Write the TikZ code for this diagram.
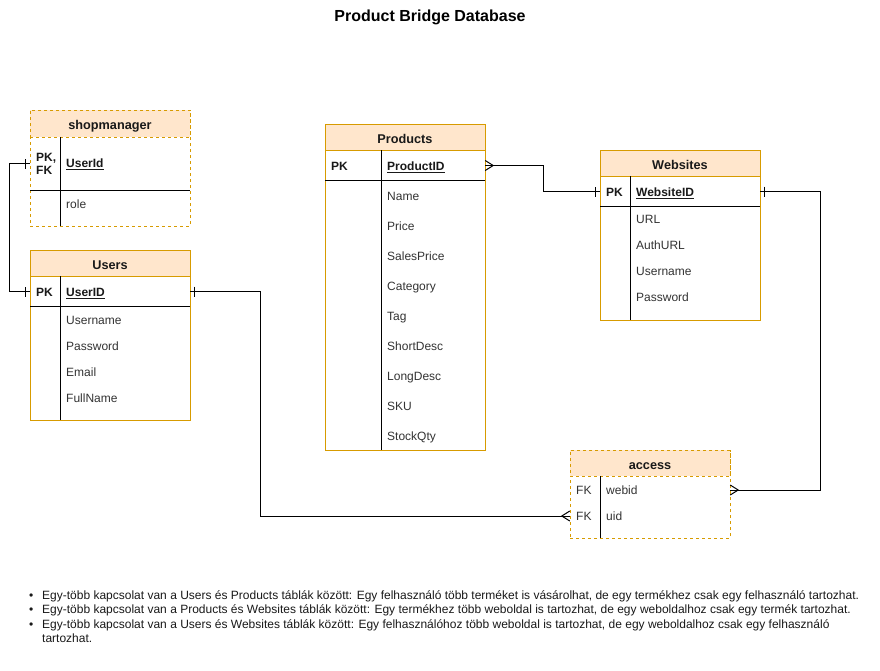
\documentclass[tikz,border=0pt]{standalone}
\usepackage{fontspec}
\setmainfont{Liberation Sans}
\usetikzlibrary{calc}
\definecolor{hdrfill}{HTML}{FFE6CC}
\definecolor{hdrline}{HTML}{D79B00}
\definecolor{txt}{HTML}{333333}
\begin{document}
\begin{tikzpicture}[x=1pt,y=-1pt,
  tbl/.style={draw=hdrline, fill=white, line width=1pt, inner sep=0pt, minimum width=160pt},
  dtbl/.style={tbl, dash pattern=on 3pt off 3pt},
  hdr/.style={draw=hdrline, fill=hdrfill, line width=1pt, inner sep=0pt, minimum width=160pt, minimum height=26pt, font=\fontsize{12.7}{14}\selectfont\bfseries, text=black!90, text height=14.6pt, text depth=2pt},
  dhdr/.style={hdr, dash pattern=on 3pt off 3pt},
  cell/.style={anchor=west, inner sep=0pt, font=\fontsize{12}{14}\selectfont, text=txt, text height=10.6pt, text depth=2pt},
  keycell/.style={cell, font=\fontsize{12}{14}\selectfont\bfseries, text=black!90},
  rowbox/.style={inner sep=0pt, minimum width=160pt},
  rowline/.style={line width=1pt, black},
  conn/.style={line width=1pt, black},
  note/.style={anchor=west, inner sep=0pt, font=\fontsize{12}{14}\selectfont, text=black!90, text height=10.6pt, text depth=2pt},
  onemk/.pic={\draw[conn] (4,-5) -- (4,5);},
  manymk/.pic={\draw[conn] (0,-5) -- (8,0) -- (0,5);},
]
\useasboundingbox[fill=white] (0,0) rectangle (880,670);

% title
\node[font=\fontsize{16}{18}\selectfont\bfseries, inner sep=0pt, text height=13.4pt, text depth=2pt] (title) at (430,16) {Product Bridge Database};

% ---------- shopmanager ----------
\node[dtbl, minimum height=116pt] (shop) at (110,168) {};
\node[dhdr, minimum height=27pt] (shophdr) at (110,123.5) {shopmanager};
\draw[rowline] (30,190) -- (190,190);
\draw[rowline] (60,137) -- (60,226);
\node[rowbox, minimum height=53pt] (shoppk) at (110,163.5) {};
\node[anchor=west, inner sep=0pt, align=left, text=black!90, font=\fontsize{12}{13.5}\selectfont\bfseries] (shopk) at (36,164) {PK,\\FK};
\node[keycell] (shopid) at (66,163) {\underline{UserId}};
\node[cell] (shoprole) at (66,204) {role};

% ---------- Users ----------
\node[tbl, minimum height=170pt] (users) at (110,335) {};
\node[hdr] (usershdr) at (110,263) {Users};
\draw[rowline] (30,306) -- (190,306);
\draw[rowline] (60,276) -- (60,420);
\node[rowbox, minimum height=30pt] (userspk) at (110,291.5) {};
\node[keycell] (usersk) at (36,292) {PK};
\node[keycell] (usersid) at (66,292) {\underline{UserID}};
\node[cell] (usersu) at (66,320) {Username};
\node[cell] (usersp) at (66,346) {Password};
\node[cell] (userse) at (66,372) {Email};
\node[cell] (usersf) at (66,398) {FullName};

% ---------- Products ----------
\node[tbl, minimum height=326pt] (prod) at (405,287) {};
\node[hdr] (prodhdr) at (405,137) {Products};
\draw[rowline] (325,180) -- (485,180);
\draw[rowline] (381,150) -- (381,450);
\node[rowbox, minimum height=30pt] (prodpk) at (405,165.5) {};
\node[keycell] (prodk) at (331,166) {PK};
\node[keycell] (prodid) at (387,166) {\underline{ProductID}};
\foreach \t/\y [count=\i] in {Name/196,Price/226,SalesPrice/256,Category/286,Tag/316,ShortDesc/346,LongDesc/376,SKU/406,StockQty/436}
  \node[cell] (prodr\i) at (387,\y) {\t};

% ---------- Websites ----------
\node[tbl, minimum height=170pt] (web) at (680,235) {};
\node[hdr] (webhdr) at (680,163) {Websites};
\draw[rowline] (600,206) -- (760,206);
\draw[rowline] (630,176) -- (630,320);
\node[rowbox, minimum height=30pt] (webpk) at (680,191.5) {};
\node[keycell] (webk) at (606,192) {PK};
\node[keycell] (webid) at (636,192) {\underline{WebsiteID}};
\node[cell] (webu) at (636,219) {URL};
\node[cell] (weba) at (636,245) {AuthURL};
\node[cell] (webn) at (636,271) {Username};
\node[cell] (webp) at (636,297) {Password};

% ---------- access ----------
\node[dtbl, minimum height=88pt] (acc) at (650,494) {};
\node[dhdr] (acchdr) at (650,463) {access};
\draw[rowline] (600,476) -- (600,538);
\node[rowbox, minimum height=26pt] (accweb) at (650,490) {};
\node[rowbox, minimum height=26pt] (accuid) at (650,516) {};
\node[cell] (acck1) at (576,490) {FK};
\node[cell] (accw) at (606,490) {webid};
\node[cell] (acck2) at (576,516) {FK};
\node[cell] (accu) at (606,516) {uid};

% ---------- connectors ----------
\draw[conn] (shoppk.west) -- ++(-20,0) |- (userspk.west);
\pic[rotate=180] at (shoppk.west) {onemk};
\pic[rotate=180] at (userspk.west) {onemk};

\draw[conn] (prodpk.east) -- (543,165.5) -- (543,191.5) -- (webpk.west);
\pic at (prodpk.east) {manymk};
\pic[rotate=180] at (webpk.west) {onemk};

\draw[conn] (webpk.east) -- (820,191.5) |- (accweb.east);
\pic at (webpk.east) {onemk};
\pic at (accweb.east) {manymk};

\draw[conn] (userspk.east) -- (260,291.5) |- (accuid.west);
\pic at (userspk.east) {onemk};
\pic[rotate=180] at (accuid.west) {manymk};

% ---------- notes ----------
\node[note] (b1) at (29,595) {•};
\node[note] (b2) at (29,609) {•};
\node[note] (b3) at (29,624.5) {•};
\node[note] (n1) at (42,595) {Egy-több kapcsolat van a Users és Products táblák között: Egy felhasználó több terméket is vásárolhat, de egy termékhez csak egy felhasználó tartozhat.};
\node[note] (n2) at (42,609) {Egy-több kapcsolat van a Products és Websites táblák között: Egy termékhez több weboldal is tartozhat, de egy weboldalhoz csak egy termék tartozhat.};
\node[note] (n3) at (42,624.5) {Egy-több kapcsolat van a Users és Websites táblák között: Egy felhasználóhoz több weboldal is tartozhat, de egy weboldalhoz csak egy felhasználó};
\node[note] (n4) at (42,638.5) {tartozhat.};
\end{tikzpicture}
\end{document}
